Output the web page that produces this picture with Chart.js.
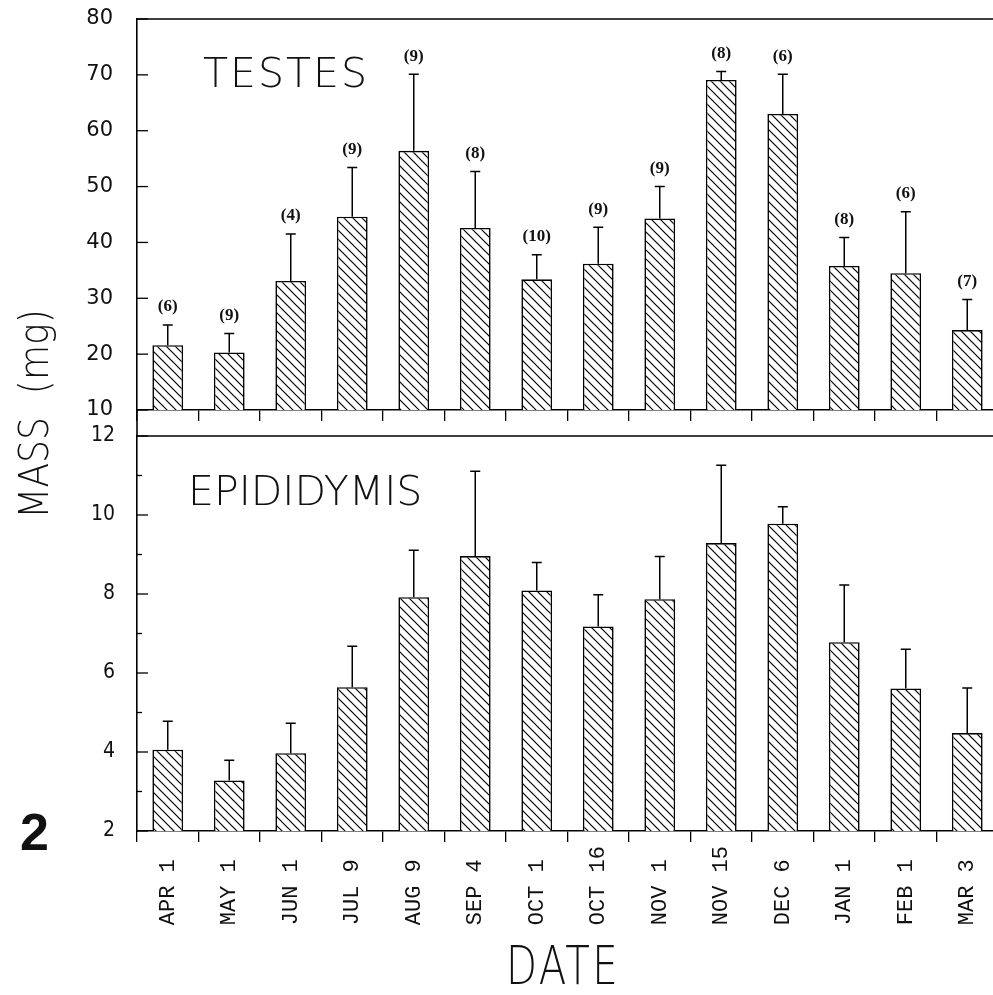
<!DOCTYPE html>
<html>
<head>
<meta charset="utf-8">
<script src="https://cdn.jsdelivr.net/npm/chart.js@4.4.1/dist/chart.umd.min.js"></script>
<style>
  html, body { margin: 0; padding: 0; background: #fff; overflow: hidden; width: 993px; height: 995px; }
  #wrap { position: relative; width: 1000px; height: 995px; }
  canvas { position: absolute; left: 0; top: 0; }
</style>
</head>
<body>
<div id="wrap">
  <canvas id="testes" width="1000" height="995"></canvas>
  <canvas id="epid" width="1000" height="995"></canvas>
</div>
<script>
// Sampling dates (x categories)
const dates = ['APR 1', 'MAY 1', 'JUN 1', 'JUL 9', 'AUG 9', 'SEP 4', 'OCT 1',
               'OCT 16', 'NOV 1', 'NOV 15', 'DEC 6', 'JAN 1', 'FEB 1', 'MAR 3'];

// Testes mass (mg): mean and standard error
const testesMean = [21.6, 20.3, 33.1, 44.6, 56.4, 42.6, 33.4, 36.2, 44.3, 69.1, 63.0, 35.8, 34.5, 24.3];
const testesSE   = [3.6, 3.4, 8.4, 8.8, 13.7, 10.1, 4.4, 6.5, 5.7, 1.5, 7.1, 5.1, 11.0, 5.5];

// Sample sizes per date
const sampleSize = [6, 9, 4, 9, 9, 8, 10, 9, 9, 8, 6, 8, 6, 7];

// Epididymis mass (mg): mean and standard error
const epidMean = [4.06, 3.28, 3.97, 5.64, 7.92, 8.96, 8.09, 7.18, 7.87, 9.29, 9.78, 6.78, 5.61, 4.48];
const epidSE   = [0.72, 0.51, 0.76, 1.04, 1.19, 2.15, 0.71, 0.80, 1.08, 1.97, 0.43, 1.45, 0.99, 1.14];

// Labelled y ticks of each panel
const testesTickLabels = [10, 20, 30, 40, 50, 60, 70, 80];
const epidTickLabels = [2, 4, 6, 8, 10, 12];

const INK = '#111';
const LIGHT_FONT = "'DejaVu Sans', sans-serif";
const NARROW_FONT = "'Liberation Sans Narrow', 'DejaVu Sans Condensed', sans-serif";

// Date labels padded to equal length so rotated labels start on one line
const labelLen = Math.max(...dates.map(d => d.length));
const dateLabels = dates.map(d => d.padEnd(labelLen, ' '));

// Diagonal hatch fill
function makeHatch() {
  const s = 9;
  const c = document.createElement('canvas');
  c.width = s; c.height = s;
  const g = c.getContext('2d');
  g.fillStyle = '#fff';
  g.fillRect(0, 0, s, s);
  g.strokeStyle = '#000';
  g.lineWidth = 1.2;
  g.beginPath();
  g.moveTo(-1, -1); g.lineTo(s + 1, s + 1);
  g.moveTo(-1, s - 1); g.lineTo(1, s + 1);
  g.moveTo(s - 1, -1); g.lineTo(s + 1, 1);
  g.stroke();
  return g.createPattern(c, 'repeat');
}
const hatch = makeHatch();

// Frame: top border, inward y ticks, optional axis extension and captions
const framePlugin = {
  id: 'frame',
  afterDraw(chart, args, opts) {
    const { ctx, chartArea: a } = chart;
    const ys = chart.scales.y;
    ctx.save();
    ctx.strokeStyle = '#000';
    ctx.lineWidth = 1.6;
    ctx.beginPath();
    ctx.moveTo(a.left, a.top);
    ctx.lineTo(a.right, a.top);
    ctx.stroke();

    ctx.lineWidth = 1.3;
    ys.ticks.forEach(t => {
      const y = ys.getPixelForValue(t.value);
      const len = opts.major.includes(t.value) ? 11 : 5;
      ctx.beginPath();
      ctx.moveTo(a.left, y);
      ctx.lineTo(a.left + len, y);
      ctx.stroke();
    });

    if (opts.extendTo) {
      ctx.lineWidth = 1.6;
      ctx.beginPath();
      ctx.moveTo(a.left, a.bottom);
      ctx.lineTo(a.left, opts.extendTo);
      ctx.stroke();
    }

    ctx.fillStyle = INK;
    (opts.texts || []).forEach(t => {
      ctx.save();
      ctx.font = t.font;
      if (t.spacing) ctx.letterSpacing = t.spacing;
      ctx.textAlign = t.align || 'left';
      ctx.textBaseline = t.baseline || 'alphabetic';
      ctx.translate(t.x, t.y);
      if (t.rotate) ctx.rotate(t.rotate);
      if (t.sx) ctx.scale(t.sx, 1);
      ctx.fillText(t.text, 0, 0);
      ctx.restore();
    });
    ctx.restore();
  }
};

// Error bars (upper only) and sample sizes above them
const errorPlugin = {
  id: 'errorBars',
  afterDatasetsDraw(chart, args, opts) {
    const { ctx } = chart;
    const ys = chart.scales.y;
    const ds = chart.data.datasets[0];
    const meta = chart.getDatasetMeta(0);
    ctx.save();
    ctx.strokeStyle = '#000';
    ctx.lineWidth = 1.5;
    meta.data.forEach((bar, i) => {
      const top = ys.getPixelForValue(ds.data[i] + opts.errors[i]);
      ctx.beginPath();
      ctx.moveTo(bar.x, bar.y);
      ctx.lineTo(bar.x, top);
      ctx.moveTo(bar.x - 5, top);
      ctx.lineTo(bar.x + 5, top);
      ctx.stroke();
      if (opts.counts) {
        ctx.fillStyle = INK;
        ctx.font = "bold 17px 'Liberation Serif', serif";
        ctx.textAlign = 'center';
        ctx.textBaseline = 'middle';
        ctx.fillText('(' + opts.counts[i] + ')', bar.x, top - 18);
      }
    });
    ctx.restore();
  }
};

function barDataset(values, base) {
  return {
    data: values,
    base: base,
    backgroundColor: hatch,
    borderColor: '#000',
    borderWidth: 1.6,
    borderSkipped: 'start',
    categoryPercentage: 1,
    barPercentage: 0.5
  };
}

// Keep axis label overhang from shifting the plot area
function noOverhang(s) {
  s.paddingTop = 0; s.paddingBottom = 0; s.paddingLeft = 0; s.paddingRight = 0;
}

function xAxis(showLabels, height) {
  return {
    type: 'category',
    ticks: showLabels ? {
      display: true,
      autoSkip: false,
      minRotation: 90,
      maxRotation: 90,
      padding: 4,
      color: INK,
      font: { family: "'Liberation Mono', 'DejaVu Sans Mono', monospace", size: 22 }
    } : { display: false },
    grid: { display: true, drawOnChartArea: false, drawTicks: true, tickLength: 11, offset: true, color: '#000', lineWidth: 1.3 },
    border: { display: true, color: '#000', width: 1.6 },
    afterFit(s) { s.height = height; noOverhang(s); }
  };
}

function yAxis(min, max, step, labelled, font, pad) {
  return {
    min: min, max: max,
    ticks: {
      stepSize: step,
      padding: pad,
      color: INK,
      font: font,
      callback: v => labelled.includes(v) ? String(v) : ''
    },
    grid: { display: false, drawTicks: false },
    border: { display: true, color: '#000', width: 1.6 },
    afterFit(s) { s.width = 137; noOverhang(s); }
  };
}

const common = {
  responsive: false,
  animation: false,
  events: [],
};

// Upper panel: testes
new Chart(document.getElementById('testes'), {
  type: 'bar',
  data: { labels: dateLabels, datasets: [barDataset(testesMean, 10)] },
  options: Object.assign({}, common, {
    layout: { padding: { top: 19, right: 2, left: 0, bottom: 558 } },
    plugins: {
      legend: { display: false },
      tooltip: { enabled: false },
      errorBars: { errors: testesSE, counts: sampleSize },
      frame: {
        major: testesTickLabels,
        extendTo: 437,
        texts: [
          { text: 'TESTES', x: 203, y: 87, font: "200 41px " + LIGHT_FONT, spacing: '2px' },
          { text: 'MASS  (mg)', x: 48, y: 414, rotate: -Math.PI / 2, align: 'center', sx: 0.88,
            font: "200 41px " + LIGHT_FONT }
        ]
      }
    },
    scales: {
      x: xAxis(false, 27),
      y: yAxis(10, 80, 5, testesTickLabels, { family: LIGHT_FONT, size: 21 }, 24)
    }
  }),
  plugins: [framePlugin, errorPlugin]
});

// Lower panel: epididymis
new Chart(document.getElementById('epid'), {
  type: 'bar',
  data: { labels: dateLabels, datasets: [barDataset(epidMean, 2)] },
  options: Object.assign({}, common, {
    layout: { padding: { top: 436, right: 2, left: 0, bottom: 0 } },
    plugins: {
      legend: { display: false },
      tooltip: { enabled: false },
      errorBars: { errors: epidSE, counts: null },
      frame: {
        major: epidTickLabels,
        texts: [
          { text: 'EPIDIDYMIS', x: 188, y: 505, font: "200 41px " + LIGHT_FONT },
          { text: 'DATE', x: 563, y: 984, align: 'center', sx: 0.76, spacing: '3px',
            font: "200 53px " + LIGHT_FONT },
          { text: '2', x: 20, y: 850, font: "bold 52px 'Liberation Sans', Arial, sans-serif" }
        ]
      }
    },
    scales: {
      x: xAxis(true, 164),
      y: yAxis(2, 12, 1, epidTickLabels, { family: NARROW_FONT, size: 21 }, 22)
    }
  }),
  plugins: [framePlugin, errorPlugin]
});
</script>
</body>
</html>
